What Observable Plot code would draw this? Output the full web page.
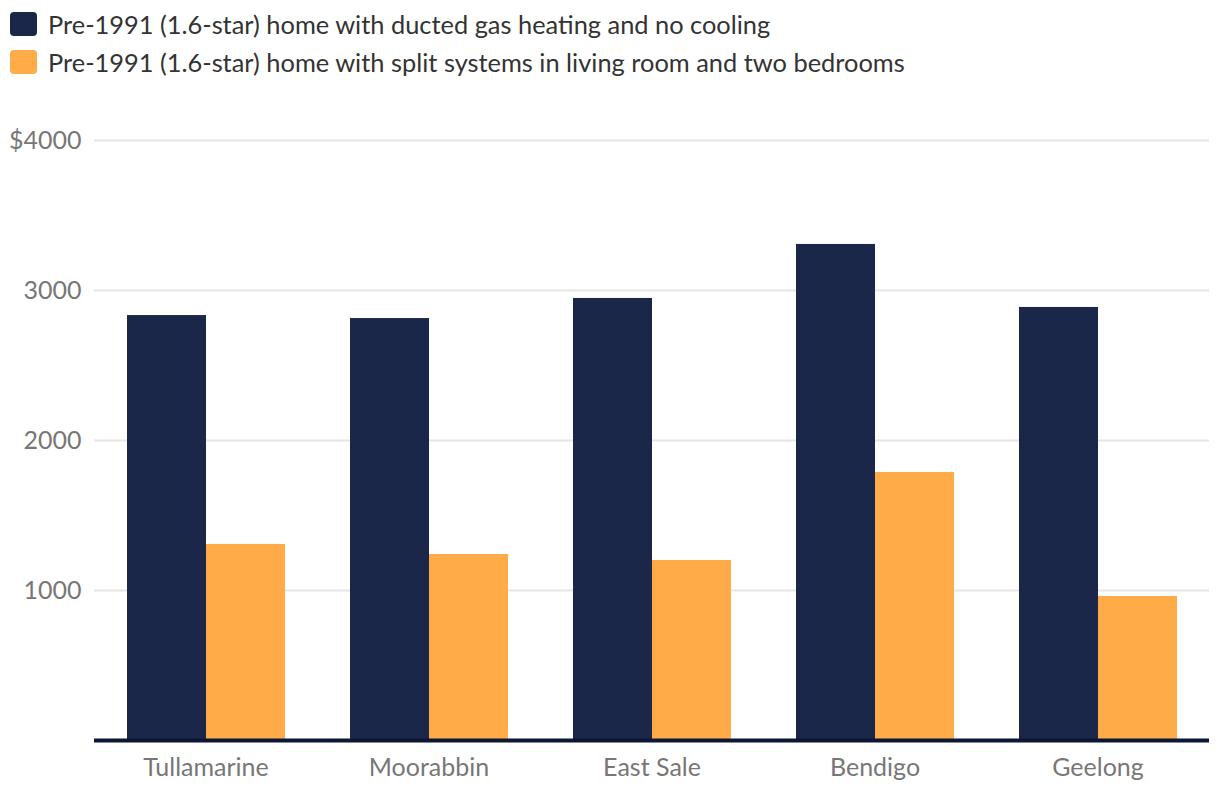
<!DOCTYPE html>
<html>
<head>
<meta charset="utf-8">
<script src="https://cdn.jsdelivr.net/npm/d3@7"></script>
<script src="https://cdn.jsdelivr.net/npm/@observablehq/plot@0.6"></script>
<style>
  body { margin: 0; background: #fff; font-family: Lato, "Open Sans", sans-serif; }
  #legend { padding: 5px 0 0 10px; height: 87px; box-sizing: border-box; }
  .row { display: flex; align-items: center; height: 38px; font-size: 25.4px; color: #333; }
  .sw { width: 27px; height: 24px; border-radius: 4px; margin-right: 11px; flex: none; }
  #chart svg { display: block; }
</style>
</head>
<body>
<div id="legend"></div>
<div id="chart"></div>
<script>
const cities = ["Tullamarine", "Moorabbin", "East Sale", "Bendigo", "Geelong"];
const seriesNames = [
  "Pre-1991 (1.6-star) home with ducted gas heating and no cooling",
  "Pre-1991 (1.6-star) home with split systems in living room and two bedrooms"
];
const ductedGas = [2833, 2813, 2947, 3307, 2887];
const splitSystems = [1307, 1240, 1200, 1787, 960];
const colors = ["#1b2748", "#ffab48"];
const yTicks = [1000, 2000, 3000, 4000];

const legend = document.getElementById("legend");
seriesNames.forEach((s, i) => {
  const r = document.createElement("div"); r.className = "row";
  const sw = document.createElement("div"); sw.className = "sw"; sw.style.background = colors[i];
  const t = document.createElement("span"); t.textContent = s;
  r.appendChild(sw); r.appendChild(t); legend.appendChild(r);
});

const data = [];
cities.forEach((c, i) => {
  data.push({city: c, series: seriesNames[0], value: ductedGas[i]});
  data.push({city: c, series: seriesNames[1], value: splitSystems[i]});
});

const chart = Plot.plot({
  width: 1220,
  height: 715,
  marginTop: 53,
  marginBottom: 62,
  marginLeft: 93,
  marginRight: 10,
  style: {fontFamily: "Lato, 'Open Sans', sans-serif", fontSize: "25px", color: "#777", background: "#fff"},
  fx: {domain: cities, padding: 0, label: null, axis: "bottom", tickSize: 0, tickPadding: 18, fontSize: 25.6},
  x: {domain: seriesNames, paddingInner: 0, paddingOuter: 0.40, axis: null},
  y: {domain: [0, 4000], ticks: yTicks, tickSize: 0, tickPadding: 13, label: null, fontSize: 24.7,
      tickFormat: d => d === 4000 ? "$4000" : String(d)},
  color: {domain: seriesNames, range: colors},
  marks: [
    Plot.ruleY(yTicks, {stroke: "#e5e5e5", strokeWidth: 2}),
    Plot.barY(data, {fx: "city", x: "series", y: "value", fill: "series"}),
    Plot.ruleY([0], {stroke: "#0d1635", strokeWidth: 4})
  ]
});
document.getElementById("chart").appendChild(chart);
</script>
</body>
</html>
